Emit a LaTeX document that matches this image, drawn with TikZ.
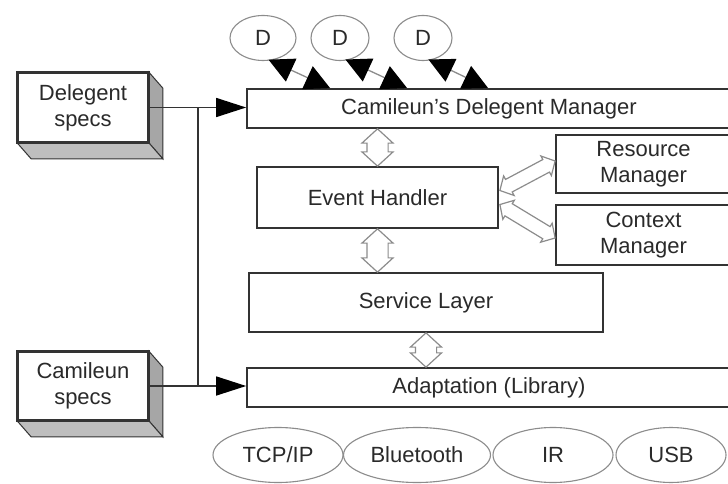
\documentclass[tikz,border=0pt]{standalone}
\usepackage{fontspec}
\setmainfont{Liberation Sans}
\usetikzlibrary{shapes.geometric,shapes.arrows,arrows.meta,calc}
\definecolor{edge}{HTML}{333333}
\definecolor{txt}{HTML}{2A2A2A}
\definecolor{soft}{HTML}{8C8C8C}
\definecolor{sideface}{HTML}{A6A6A6}
\definecolor{botface}{HTML}{BEBEBE}
\newcommand{\hollowlink}[3][]{%
  \path let \p1=($(#3)-(#2)$), \n1={atan2(\y1,\x1)}, \n2={veclen(\x1,\y1)} in
    node[hollow,#1,minimum height=\n2,rotate=\n1] at ($(#2)!0.5!(#3)$) {};}
\begin{document}
\begin{tikzpicture}[x=1pt,y=-1pt,
  every node/.style={font=\fontsize{22}{26}\selectfont, text=txt},
  layer/.style={rectangle, draw=edge, line width=1.7pt, fill=white, inner sep=0pt, align=center},
  oval/.style={ellipse, draw=soft, line width=1.1pt, inner sep=0pt, fill=white},
  link/.style={draw=edge, line width=1.4pt},
  feed/.style={link, -{Triangle[length=30pt,width=19pt,black]}},
  dlink/.style={draw=soft, line width=1.3pt, shorten <=-2pt,
    {Triangle[length=25pt,width=25pt,black]}-{Triangle[length=25pt,width=25pt,black]}},
  hollow/.style={double arrow, draw=soft, fill=white, line width=1.2pt,
    inner xsep=0pt, inner ysep=10pt, minimum width=0pt,
    double arrow head extend=5pt, double arrow tip angle=95}
]
\clip (0,0) rectangle (728,484);
\fill[white] (0,0) rectangle (728,484);

% main layers
\node[layer, minimum width=484pt, minimum height=39pt] (dm) at (489,108.5) {Camileun's Delegent Manager};
\node[layer, minimum width=241pt, minimum height=61pt] (eh) at (377.5,197.5) {Event Handler};
\node[layer, minimum width=175pt, minimum height=58pt] (rm) at (643.5,164) {Resource\\Manager};
\node[layer, minimum width=175pt, minimum height=60pt] (cm) at (643.5,235) {Context\\Manager};
\node[layer, minimum width=354pt, minimum height=59pt] (sl) at (426,302.5) {Service Layer};
\node[layer, minimum width=484pt, minimum height=39pt] (ad) at (489,387.5) {Adaptation (Library)};

% spec boxes with 3D faces
\node[layer, minimum width=130pt, minimum height=69pt] (ds) at (83,107.5) {Delegent\\specs};
\node[layer, minimum width=130pt, minimum height=68pt] (cs) at (83,386) {Camileun\\specs};
\foreach \b in {ds,cs}{
  \filldraw[fill=sideface, draw=edge, line width=1pt] (\b.north east) -- ++(14,16) -- ($(\b.south east)+(14,16)$) -- (\b.south east) -- cycle;
  \filldraw[fill=botface, draw=edge, line width=1pt] (\b.south west) -- ++(14,16) -- ($(\b.south east)+(14,16)$) -- (\b.south east) -- cycle;
  \draw[edge, line width=1.7pt] (\b.north west) rectangle (\b.south east);
}

% delegates
\node[oval, minimum width=66pt, minimum height=45pt] (d1) at (263,38) {D};
\node[oval, minimum width=58pt, minimum height=45pt] (d2) at (340,38) {D};
\node[oval, minimum width=58pt, minimum height=45pt] (d3) at (423,38) {D};
\draw[dlink] (d1.-72) -- ($(dm.north west)+(84,0)$);
\draw[dlink] (d2.-72) -- ($(dm.north west)+(161,0)$);
\draw[dlink] (d3.-72) -- ($(dm.north west)+(242,0)$);

% interfaces
\node[oval, minimum width=130pt, minimum height=55pt] (tcp) at (278,455) {TCP/IP};
\node[oval, minimum width=147pt, minimum height=55pt] (bt) at (417,455) {Bluetooth};
\node[oval, minimum width=120pt, minimum height=55pt] (ir) at (553,455) {IR};
\node[oval, minimum width=110pt, minimum height=55pt] (usb) at (671,455) {USB};

% spec feeds
\coordinate (j) at (198,110);
\draw[feed] (ds.east) -- (ds.east -| dm.west);
\draw[feed] (cs.east) -- (cs.east -| ad.west);
\draw[link] (ds.east -| j) -- (cs.east -| j);

% hollow internal links
\coordinate (h1) at (eh.north |- dm.south);
\coordinate (h2) at (eh.south |- sl.north);
\coordinate (h3) at (sl.south |- ad.north);
\hollowlink{h1}{eh.north}
\hollowlink{eh.south}{h2}
\hollowlink{sl.south}{h3}
\coordinate (r1) at ($(eh.east)+(1,-7)$);
\coordinate (r2) at ($(rm.west)+(0,-3)$);
\coordinate (c1) at ($(eh.east)+(1,7)$);
\coordinate (c2) at ($(cm.west)+(0,3)$);
\hollowlink[inner ysep=6.5pt, double arrow head extend=4pt]{r1}{r2}
\hollowlink[inner ysep=6.5pt, double arrow head extend=4pt]{c1}{c2}
\end{tikzpicture}
\end{document}
